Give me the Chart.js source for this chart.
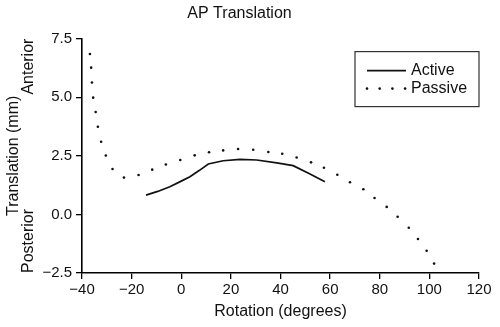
<!DOCTYPE html>
<html>
<head>
<meta charset="utf-8">
<script src="https://cdn.jsdelivr.net/npm/chart.js@4"></script>
<style>
  body { margin: 0; background: #fff; }
</style>
</head>
<body>
<canvas id="apChart" width="500" height="327"></canvas>
<script>
// AP translation vs rotation
const activeX = [-14.2, -9.5, -4.6, 0, 3.5, 7.2, 10.9, 16.9, 23.7, 30.4, 38.5, 45.1, 51.5, 57.9];
const activeY = [0.82, 0.98, 1.18, 1.42, 1.61, 1.87, 2.15, 2.29, 2.35, 2.32, 2.20, 2.08, 1.74, 1.39];

const passiveX = [-36.8, -36.3, -36.0, -35.5, -34.5, -33.6, -32.3, -30.4, -27.7, -23.1, -17.2, -11.7, -6.2, -0.4,
  5.4, 11.2, 16.9, 22.9, 29.0, 35.1, 40.7, 46.5, 52.3, 57.5, 62.9, 68.0, 73.4, 77.9, 82.8, 87.2, 91.7, 95.4, 98.9, 101.9];
const passiveY = [6.84, 6.26, 5.63, 4.98, 4.37, 3.74, 3.10, 2.51, 1.94, 1.57, 1.68, 1.91, 2.13, 2.32,
  2.52, 2.65, 2.73, 2.79, 2.76, 2.66, 2.59, 2.43, 2.22, 1.99, 1.69, 1.37, 1.07, 0.70, 0.32, -0.10, -0.57, -1.05, -1.55, -2.10];

const xTicks = [-40, -20, 0, 20, 40, 60, 80, 100, 120];
const xTickLabels = ['\u221240', '\u221220', '0', '20', '40', '60', '80', '100', '120'];
const yTicks = [-2.5, 0, 2.5, 5, 7.5];
const yTickLabels = ['\u22122.5', '0.0', '2.5', '5.0', '7.5'];

const FONT = "'Liberation Sans', Arial, Helvetica, sans-serif";
const INK = '#111';

const toPts = (xs, ys) => xs.map((x, i) => ({ x: x, y: ys[i] }));

// extra labels beside the y axis + boxed legend
const extras = {
  id: 'extras',
  afterDraw(chart) {
    const ctx = chart.ctx;
    const a = chart.chartArea;
    ctx.save();
    ctx.fillStyle = INK;
    ctx.font = '16px ' + FONT;
    ctx.textBaseline = 'middle';
    ctx.translate(29, a.top);
    ctx.rotate(-Math.PI / 2);
    ctx.textAlign = 'right';
    ctx.fillText('Anterior', 0, 0);
    ctx.restore();

    ctx.save();
    ctx.fillStyle = INK;
    ctx.font = '16px ' + FONT;
    ctx.textBaseline = 'middle';
    ctx.translate(29, a.bottom);
    ctx.rotate(-Math.PI / 2);
    ctx.textAlign = 'left';
    ctx.fillText('Posterior', 0, 0);
    ctx.restore();

    // legend box
    const bx = a.right - 124, by = a.top + 13, bw = 124, bh = 55;
    ctx.save();
    ctx.strokeStyle = '#333';
    ctx.lineWidth = 1.2;
    ctx.strokeRect(bx, by, bw, bh);
    ctx.font = '16px ' + FONT;
    ctx.fillStyle = INK;
    ctx.textBaseline = 'middle';
    ctx.textAlign = 'left';
    chart.data.datasets.forEach((ds, i) => {
      const ry = by + 19 + i * 18;
      if (ds.showLine) {
        ctx.strokeStyle = ds.borderColor;
        ctx.lineWidth = ds.borderWidth;
        ctx.beginPath();
        ctx.moveTo(bx + 12, ry);
        ctx.lineTo(bx + 51, ry);
        ctx.stroke();
      } else {
        for (let k = 0; k < 4; k++) {
          ctx.beginPath();
          ctx.arc(bx + 12 + k * 12.7, ry, ds.pointRadius, 0, Math.PI * 2);
          ctx.fill();
        }
      }
      ctx.fillText(ds.label, bx + 56, ry);
    });
    ctx.restore();
  }
};

new Chart(document.getElementById('apChart'), {
  type: 'scatter',
  data: {
    datasets: [
      {
        label: 'Active',
        data: toPts(activeX, activeY),
        showLine: true,
        borderColor: INK,
        borderWidth: 1.7,
        pointRadius: 0,
        tension: 0
      },
      {
        label: 'Passive',
        data: toPts(passiveX, passiveY),
        showLine: false,
        backgroundColor: INK,
        borderWidth: 0,
        pointRadius: 1.3
      }
    ]
  },
  options: {
    responsive: false,
    devicePixelRatio: 1,
    animation: false,
    layout: { padding: { left: 0, right: 21, top: 0, bottom: 0 } },
    plugins: {
      legend: { display: false },
      tooltip: { enabled: false },
      title: {
        display: true,
        text: 'AP Translation',
        color: INK,
        font: { family: FONT, size: 16, weight: 'normal' },
        padding: { top: 4.4, bottom: 15 }
      }
    },
    scales: {
      x: {
        type: 'linear',
        min: -40,
        max: 120,
        afterBuildTicks: s => { s.ticks = xTicks.map(v => ({ value: v })); },
        afterFit: s => { s.height = 54; },
        ticks: {
          color: INK,
          font: { family: FONT, size: 15 },
          padding: 2,
          maxRotation: 0,
          callback: v => xTickLabels[xTicks.indexOf(v)]
        },
        grid: { drawOnChartArea: false, drawTicks: true, tickLength: 6, color: '#000', lineWidth: 1.3 },
        border: { display: true, color: '#000', width: 1.6 },
        title: {
          display: true,
          text: 'Rotation (degrees)',
          color: INK,
          font: { family: FONT, size: 16 },
          padding: { top: 0, bottom: 5.4 }
        }
      },
      y: {
        type: 'linear',
        min: -2.5,
        max: 7.5,
        afterBuildTicks: s => { s.ticks = yTicks.map(v => ({ value: v })); },
        afterFit: s => { s.width = 82; },
        ticks: {
          color: INK,
          font: { family: FONT, size: 15 },
          padding: 4,
          callback: v => yTickLabels[yTicks.indexOf(v)]
        },
        grid: { drawOnChartArea: false, drawTicks: true, tickLength: 6, color: '#000', lineWidth: 1.3 },
        border: { display: true, color: '#000', width: 1.6 },
        title: {
          display: true,
          text: 'Translation (mm)',
          color: INK,
          font: { family: FONT, size: 16 },
          padding: { top: 4.4, bottom: 0 }
        }
      }
    }
  },
  plugins: [extras]
});
</script>
</body>
</html>
